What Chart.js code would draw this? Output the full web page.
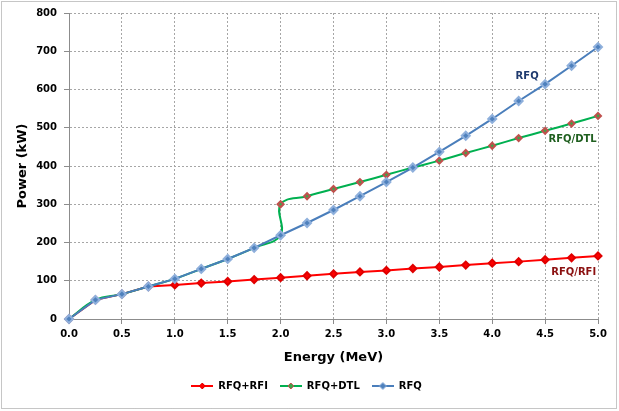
<!DOCTYPE html>
<html>
<head>
<meta charset="utf-8">
<script src="https://cdn.jsdelivr.net/npm/chart.js@4/dist/chart.umd.min.js"></script>
<style>
  html, body { margin: 0; padding: 0; background: #fff; }
  #wrap { width: 619px; height: 411px; }
</style>
</head>
<body>
<div id="wrap"><canvas id="chart" width="619" height="411"></canvas></div>
<script>
// values
const energy = [0, 0.25, 0.5, 0.75, 1.0, 1.25, 1.5, 1.75, 2.0, 2.25, 2.5, 2.75, 3.0, 3.25, 3.5, 3.75, 4.0, 4.25, 4.5, 4.75, 5.0];
const rfq    = [0, 50, 65, 85, 105, 131, 157, 186, 219, 251, 285, 321, 358, 396, 437, 479, 523, 570, 614, 662, 711];
const rfqRfi = [0, 50, 65, 85, 89, 94, 98, 103, 108, 113, 118, 123, 127, 132, 136, 141, 146, 150, 155, 160, 165];
// DTL case has a step at 2.0 MeV
const dtlEnergy = [0, 0.25, 0.5, 0.75, 1.0, 1.25, 1.5, 1.75, 2.0, 2.0, 2.25, 2.5, 2.75, 3.0, 3.25, 3.5, 3.75, 4.0, 4.25, 4.5, 4.75, 5.0];
const rfqDtl    = [0, 50, 65, 85, 105, 131, 157, 186, 219, 300, 321, 340, 358, 377, 396, 414, 434, 453, 473, 492, 511, 531];

const seriesNames = ['RFQ+RFI', 'RFQ+DTL', 'RFQ'];
const notes = [
  { text: 'RFQ', x: 4.33, y: 635, color: '#1f3a6e' },
  { text: 'RFQ/DTL', x: 4.76, y: 470, color: '#1f5f1f' },
  { text: 'RFQ/RFI', x: 4.77, y: 123, color: '#8b1010' }
];

const FONT = '"DejaVu Sans", sans-serif';

function pts(xs, ys) {
  return xs.map((x, i) => ({ x, y: ys[i] }));
}

// small legend swatch: line with a diamond in the middle
function swatch(line, fill, border, r) {
  const c = document.createElement('canvas');
  c.width = 22; c.height = 10;
  const g = c.getContext('2d');
  g.strokeStyle = line; g.lineWidth = 2;
  g.beginPath(); g.moveTo(0, 5); g.lineTo(22, 5); g.stroke();
  g.fillStyle = fill; g.strokeStyle = border; g.lineWidth = 1;
  g.beginPath();
  g.moveTo(11, 5 - r); g.lineTo(11 + r, 5); g.lineTo(11, 5 + r); g.lineTo(11 - r, 5); g.closePath();
  g.fill(); g.stroke();
  return c;
}

const swatches = [
  swatch('#ff0000', '#ff0000', '#e00000', 3),
  swatch('#00b050', '#3fa34a', '#c0504d', 3),
  swatch('#4a7ebb', '#4f81bd', '#8fb0dc', 3.5)
];

const frame = {
  id: 'frame',
  beforeDraw(chart) {
    const ctx = chart.ctx;
    ctx.save();
    ctx.fillStyle = '#fff';
    ctx.fillRect(0, 0, chart.width, chart.height);
    ctx.setLineDash([1, 1]);
    ctx.strokeStyle = '#8c8c8c';
    ctx.lineWidth = 1;
    ctx.strokeRect(1.5, 1.5, chart.width - 4, chart.height - 4);
    ctx.restore();
  },
  afterDatasetsDraw(chart) {
    const ctx = chart.ctx;
    const xs = chart.scales.x, ys = chart.scales.y;
    ctx.save();
    ctx.font = 'bold 10px ' + FONT;
    ctx.textAlign = 'center';
    ctx.textBaseline = 'middle';
    notes.forEach(n => {
      ctx.fillStyle = n.color;
      ctx.fillText(n.text, xs.getPixelForValue(n.x), ys.getPixelForValue(n.y));
    });
    ctx.restore();
  }
};

new Chart(document.getElementById('chart'), {
  type: 'scatter',
  data: {
    datasets: [
      {
        label: seriesNames[0],
        data: pts(energy, rfqRfi),
        showLine: true,
        borderColor: '#ff0000',
        borderWidth: 2,
        pointStyle: 'rectRot',
        pointRadius: 3.5,
        pointBackgroundColor: '#ff0000',
        pointBorderColor: '#e00000',
        order: 2
      },
      {
        label: seriesNames[1],
        data: pts(dtlEnergy, rfqDtl),
        showLine: true,
        tension: 0.4,
        borderColor: '#00b050',
        borderWidth: 2,
        pointStyle: 'rectRot',
        pointRadius: 3,
        pointBackgroundColor: '#3fa34a',
        pointBorderColor: '#c0504d',
        order: 1
      },
      {
        label: seriesNames[2],
        data: pts(energy, rfq),
        showLine: true,
        borderColor: '#4a7ebb',
        borderWidth: 2,
        pointStyle: 'rectRot',
        pointRadius: 4,
        pointBackgroundColor: '#4f81bd',
        pointBorderColor: '#8fb0dc',
        order: 0
      }
    ]
  },
  options: {
    responsive: false,
    animation: false,
    clip: false,
    layout: { padding: { top: 12, right: 21, left: 15, bottom: 10 } },
    plugins: {
      tooltip: { enabled: false },
      legend: {
        position: 'bottom',
        labels: {
          usePointStyle: true,
          pointStyleWidth: 22,
          padding: 12,
          color: '#000',
          font: { family: FONT, size: 10, weight: 'bold' },
          sort: (a, b) => a.datasetIndex - b.datasetIndex,
          generateLabels(chart) {
            return chart.data.datasets.map((ds, i) => ({
              text: ds.label,
              datasetIndex: i,
              pointStyle: swatches[i],
              fillStyle: ds.borderColor,
              strokeStyle: ds.borderColor,
              lineWidth: 0,
              hidden: false
            }));
          }
        }
      }
    },
    scales: {
      x: {
        type: 'linear',
        min: 0,
        max: 5,
        afterFit: s => { s.height = 50; },
        ticks: {
          stepSize: 0.5,
          padding: 4,
          color: '#000',
          font: { family: FONT, size: 10, weight: 'bold' },
          callback: v => Number(v).toFixed(1)
        },
        grid: { color: '#a6a6a6', tickLength: 5, tickColor: '#8c8c8c' },
        border: { color: '#8c8c8c', dash: [2, 2] },
        title: {
          display: true,
          text: 'Energy (MeV)',
          color: '#000',
          padding: { top: 4 },
          font: { family: FONT, size: 13, weight: 'bold' }
        }
      },
      y: {
        min: 0,
        max: 800,
        afterFit: s => { s.width = 54; },
        ticks: {
          stepSize: 100,
          padding: 7,
          color: '#000',
          font: { family: FONT, size: 10, weight: 'bold' }
        },
        grid: { color: '#a6a6a6', tickLength: 5, tickColor: '#8c8c8c' },
        border: { color: '#8c8c8c', dash: [2, 2] },
        title: {
          display: true,
          text: 'Power (kW)',
          color: '#000',
          padding: { top: 0, bottom: 4 },
          font: { family: FONT, size: 13, weight: 'bold' }
        }
      }
    }
  },
  plugins: [frame]
});
</script>
</body>
</html>
